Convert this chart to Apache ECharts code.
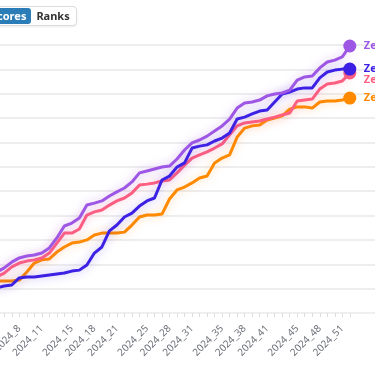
<!DOCTYPE html>
<html>
<head>
<meta charset="utf-8">
<script src="https://cdn.jsdelivr.net/npm/echarts@6/dist/echarts.min.js"></script>
<style>
  html, body { margin: 0; padding: 0; background: #fff; overflow: hidden; width: 375px; height: 366px; }
  #chart { position: absolute; left: -40px; top: 0; width: 420px; height: 366px; }
  #btns { position: absolute; left: -16px; top: 6px; height: 16px; padding: 1px;
          border: 1px solid #dcdcdc; border-radius: 4px; background: #fff;
          display: flex; z-index: 5; font-family: 'Noto Sans', sans-serif;
          font-size: 11px; font-weight: 700; box-shadow: 0 1px 2px rgba(0,0,0,0.08); }
  #btns span { display: block; line-height: 15px; padding: 0 5px; border-radius: 3px; }
  #btns .on { background: #2b7db8; color: #fff; }
  #btns .off { color: #333; }
</style>
</head>
<body>
<div id="chart"></div>
<div id="btns"><span class="on">Scores</span><span class="off">Ranks</span></div>
<script>
const weeks = ['2024_1','2024_2','2024_3','2024_4','2024_5','2024_6','2024_7','2024_8','2024_9','2024_10',
  '2024_11','2024_12','2024_13','2024_14','2024_15','2024_16','2024_17','2024_18','2024_19','2024_20',
  '2024_21','2024_22','2024_23','2024_24','2024_25','2024_26','2024_27','2024_28','2024_29','2024_30',
  '2024_31','2024_32','2024_33','2024_34','2024_35','2024_36','2024_37','2024_38','2024_39','2024_40',
  '2024_41','2024_42','2024_43','2024_44','2024_45','2024_46','2024_47','2024_48','2024_49','2024_50',
  '2024_51','2024_52'];
const padCategories = ['pad_1','pad_2','pad_3','pad_4'];
const shownLabels = ['2024_8','2024_11','2024_15','2024_18','2024_21','2024_25','2024_28','2024_31',
  '2024_35','2024_38','2024_41','2024_45','2024_48','2024_51'];

const seriesNames = ['Zelda', 'Zephyr', 'Zenith', 'Zeta'];
const seriesColors = ['#ff8a00', '#ff5f80', '#3c21e5', '#9d57e4'];
const seriesShadow = ['rgba(255,138,0,0.35)', 'rgba(255,95,128,0.35)', 'rgba(60,33,229,0.35)', 'rgba(157,87,228,0.4)'];

const orangeVals = [123,127,127,131,131,131,131,135,168,205,218,222,250,271,287,291,300,320,328,328,
  328,332,361,394,402,402,406,468,505,517,534,554,562,616,636,649,722,759,768,772,
  792,800,809,837,846,846,841,866,870,870,874,882];
const pinkVals = [78,94,111,127,148,164,189,205,213,218,226,246,287,328,328,345,402,415,423,443,
  460,472,493,525,529,534,542,546,575,607,636,649,661,677,694,731,768,780,784,788,
  796,804,813,821,870,874,878,919,940,944,952,985];
const blueVals = [90,94,99,99,103,111,115,144,148,148,152,156,160,164,172,176,197,246,271,337,
  361,394,410,439,460,472,546,562,599,616,677,685,690,706,718,739,796,804,817,829,
  833,866,899,907,919,924,924,965,989,997,1001,1001];
const purpleVals = [94,111,127,148,168,185,209,226,234,238,246,267,308,357,369,390,443,451,460,480,
  497,513,538,575,583,591,599,603,632,669,698,710,726,747,768,796,841,862,866,874,
  891,899,903,915,956,969,973,1006,1030,1038,1051,1096];

const allVals = [orangeVals, pinkVals, blueVals, purpleVals];
const yMin = 0, yMax = 1100, yStep = 100;

const chart = echarts.init(document.getElementById('chart'), null, { renderer: 'canvas' });
const lastIdx = weeks.length - 1;

const series = allVals.map((vals, i) => ({
  type: 'line',
  name: seriesNames[i],
  data: vals,
  smooth: false,
  symbol: 'circle',
  showSymbol: true,
  showAllSymbol: true,
  symbolSize: (v, p) => (p.dataIndex === lastIdx ? 13 : 0),
  itemStyle: { color: seriesColors[i] },
  lineStyle: { width: 3, color: seriesColors[i], shadowBlur: 10, shadowColor: seriesShadow[i] },
  endLabel: { show: true, formatter: '{a}', color: seriesColors[i], fontWeight: 'bold',
              fontSize: 11, distance: 14, fontFamily: 'Noto Sans' },
  labelLayout: { moveOverlap: 'shiftY' },
  emphasis: { disabled: true },
  z: 2 + i
}));

chart.setOption({
  animation: false,
  grid: { left: 6.7, right: 0.15, top: 45, bottom: 53, containLabel: false },
  xAxis: {
    type: 'category',
    data: weeks.concat(padCategories),
    boundaryGap: false,
    offset: 6,
    axisLine: { show: true, lineStyle: { color: '#f0f0f0', width: 1 } },
    axisTick: { show: true, length: 4, lineStyle: { color: '#dddddd' },
                interval: (idx, val) => padCategories.indexOf(val) < 0 },
    axisLabel: { rotate: 45, fontSize: 10, color: '#6e7079', margin: 8, fontFamily: 'Noto Sans',
                 interval: (idx, val) => shownLabels.indexOf(val) >= 0 },
    splitLine: { show: false }
  },
  yAxis: {
    type: 'value',
    min: yMin, max: yMax, interval: yStep,
    axisLabel: { show: false },
    axisLine: { show: false },
    axisTick: { show: false },
    splitLine: { show: true, lineStyle: { color: '#e8e8e8', width: 1.5 } }
  },
  series: series
});
</script>
</body>
</html>
